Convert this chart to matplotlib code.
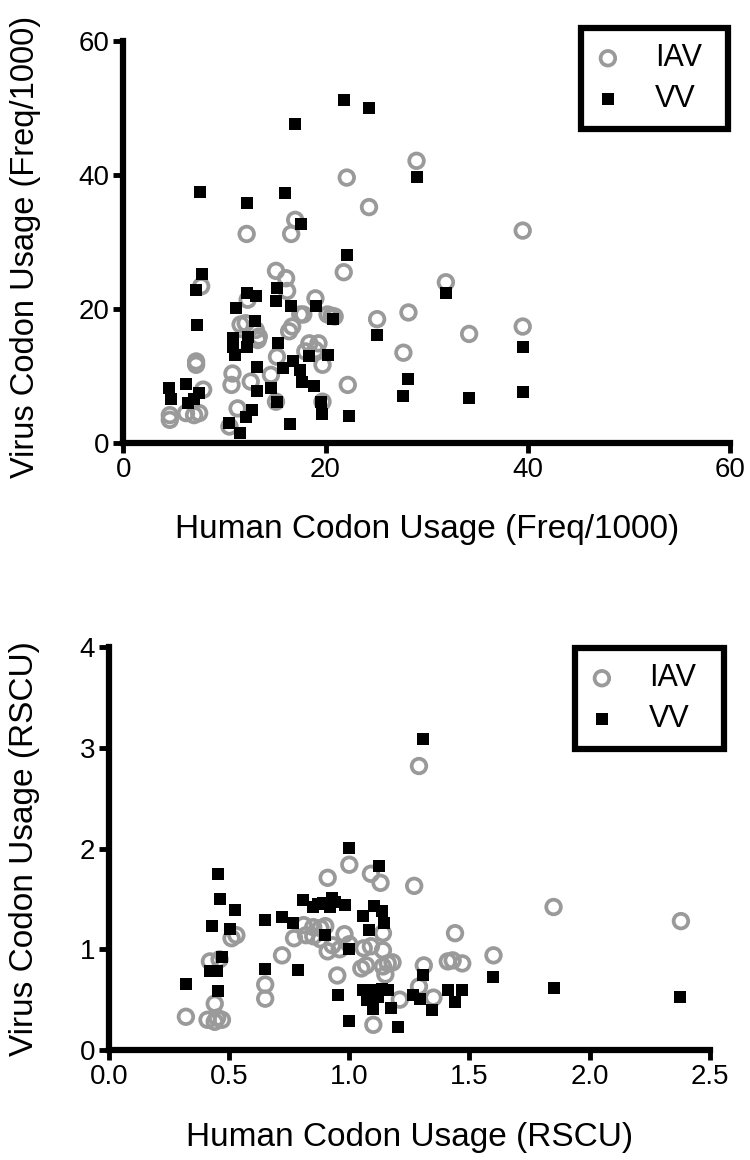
import matplotlib
matplotlib.use("Agg")
import matplotlib.pyplot as plt

plt.rcParams['font.family'] = ['Liberation Sans', 'DejaVu Sans']

# ---------------- data ----------------
# Top panel: codon usage frequency (per 1000)
iav_freq_human = [4.6, 4.6, 6.2, 7.0, 7.5, 7.9, 7.2, 7.2, 7.7, 10.5,
                  10.7, 10.8, 11.3, 12.6, 12.1, 12.3, 12.2, 11.6, 13.1, 13.3,
                  13.4, 11.5, 15.2, 14.6, 15.1, 15.1, 16.1, 16.2, 16.6, 17.0,
                  16.7, 16.4, 17.5, 18.0, 18.4, 19.3, 19.0, 19.7, 19.7, 19.0,
                  20.2, 17.8, 20.6, 20.9, 21.8, 22.1, 22.2, 24.3, 25.1, 27.7,
                  28.2, 29.0, 31.9, 34.2, 39.5, 39.5]
iav_freq_virus = [4.2, 3.5, 4.5, 4.2, 4.5, 8.0, 12.2, 11.7, 23.4, 2.5,
                  8.7, 10.4, 5.2, 9.2, 17.9, 21.4, 31.2, 17.7, 16.9, 15.4,
                  15.9, 14.9, 12.9, 10.2, 6.2, 25.7, 24.6, 22.7, 31.2, 33.3,
                  17.4, 16.7, 19.2, 13.7, 14.9, 14.9, 13.9, 11.7, 6.2, 21.6,
                  19.2, 19.2, 19.0, 18.9, 25.5, 39.6, 8.7, 35.2, 18.5, 13.5,
                  19.5, 42.1, 24.0, 16.3, 31.7, 17.4]
vv_freq_human = [17.0, 7.6, 12.2, 16.0, 17.6, 7.8, 7.2, 7.3, 12.2, 13.1,
                 15.2, 15.1, 16.6, 19.1, 20.7, 11.1, 13.0, 10.8, 10.8, 11.0,
                 12.3, 12.2, 15.3, 13.2, 16.8, 15.8, 17.5, 17.7, 18.9, 18.4,
                 20.2, 13.2, 14.6, 15.2, 4.5, 4.7, 6.2, 6.4, 7.0, 7.5,
                 12.7, 12.1, 10.5, 11.5, 16.5, 19.6, 19.7, 21.8, 24.3, 29.0,
                 22.1, 25.1, 31.9, 39.5, 28.2, 27.7, 34.2, 39.5, 22.3]
vv_freq_virus = [47.6, 37.5, 35.8, 37.3, 32.7, 25.3, 22.9, 17.7, 22.4, 21.9,
                 23.1, 21.2, 20.5, 20.5, 18.5, 20.2, 18.2, 15.7, 14.4, 13.2,
                 15.9, 14.4, 14.9, 11.4, 12.3, 11.2, 10.9, 9.2, 8.6, 13.0,
                 13.2, 7.8, 8.2, 6.2, 8.2, 6.6, 8.9, 6.0, 6.6, 7.5,
                 5.0, 3.9, 3.0, 1.6, 2.9, 6.1, 4.4, 51.1, 50.0, 39.7,
                 28.0, 16.1, 22.4, 14.4, 9.6, 7.0, 6.7, 7.6, 4.0]

# Bottom panel: RSCU
iav_rscu_human = [0.32, 0.42, 0.46, 0.44, 0.41, 0.44, 0.47, 0.45, 0.51, 0.53,
                  0.65, 0.65, 0.72, 0.77, 0.81, 0.85, 0.88, 0.82, 0.91, 0.91,
                  0.93, 0.95, 1.00, 1.09, 1.13, 1.27, 1.29, 1.85, 2.38, 1.44,
                  1.60, 1.41, 1.43, 1.47, 1.31, 1.29, 1.35, 1.21, 1.10, 0.98,
                  1.06, 1.09, 1.14, 1.05, 1.07, 1.14, 1.16, 1.18, 1.15, 1.14,
                  0.90, 0.85, 1.00, 0.96, 0.88]
iav_rscu_virus = [0.33, 0.88, 0.90, 0.46, 0.30, 0.28, 0.30, 0.32, 1.11, 1.14,
                  0.65, 0.51, 0.94, 1.11, 1.24, 1.22, 1.21, 1.14, 1.71, 0.98,
                  1.04, 0.74, 1.84, 1.75, 1.66, 1.63, 2.82, 1.42, 1.28, 1.16,
                  0.94, 0.88, 0.89, 0.86, 0.84, 0.63, 0.52, 0.50, 0.25, 1.15,
                  1.01, 1.03, 0.99, 0.81, 0.84, 0.83, 0.86, 0.87, 0.75, 1.16,
                  1.23, 1.13, 1.05, 1.00, 1.10]
vv_rscu_human = [0.455, 0.462, 0.524, 0.427, 0.503, 0.472, 0.420, 0.448, 0.452, 0.32,
                 0.649, 0.649, 0.721, 0.767, 0.788, 0.806, 0.85, 0.87, 0.89, 0.93,
                 0.92, 0.899, 0.999, 1.122, 0.982, 1.058, 1.103, 1.135, 1.145, 1.082,
                 0.999, 0.952, 1.058, 1.093, 1.135, 1.163, 1.072, 1.10, 1.172, 0.999,
                 1.204, 1.266, 1.294, 1.308, 1.345, 1.41, 1.469, 1.44, 1.60, 1.853,
                 2.376, 1.307, 0.94, 1.08, 1.12]
vv_rscu_virus = [1.75, 1.50, 1.39, 1.23, 1.20, 0.92, 0.78, 0.78, 0.59, 0.66,
                 1.29, 0.80, 1.32, 1.26, 0.79, 1.49, 1.42, 1.45, 1.46, 1.51,
                 1.42, 1.14, 2.01, 1.83, 1.44, 1.33, 1.43, 1.38, 1.26, 1.19,
                 1.00, 0.55, 0.60, 0.60, 0.61, 0.60, 0.50, 0.41, 0.42, 0.29,
                 0.23, 0.55, 0.51, 0.74, 0.40, 0.60, 0.60, 0.48, 0.72, 0.62,
                 0.53, 3.09, 1.47, 0.55, 0.53]

series_labels = ['IAV', 'VV']
freq_ticks = [0, 20, 40, 60]
freq_ticklabels = ['0', '20', '40', '60']
rscu_xticks = [0.0, 0.5, 1.0, 1.5, 2.0, 2.5]
rscu_xticklabels = ['0.0', '0.5', '1.0', '1.5', '2.0', '2.5']
rscu_yticks = [0, 1, 2, 3, 4]
rscu_yticklabels = ['0', '1', '2', '3', '4']

# ---------------- figure ----------------
W, H = 750, 1160
fig = plt.figure(figsize=(W / 100, H / 100), dpi=100)

ax1 = fig.add_axes([123.3 / W, 1 - 443.3 / H, (730 - 123.3) / W, (443.3 - 40.7) / H])
ax2 = fig.add_axes([109 / W, 1 - 1050 / H, (709.75 - 109) / W, (1050 - 647.2) / H])

GRAY = '#9a9a9a'


def style(ax):
    for s in ('top', 'right'):
        ax.spines[s].set_visible(False)
    for s in ('left', 'bottom'):
        ax.spines[s].set_linewidth(4.5)
        ax.spines[s].set_capstyle('projecting')
    ax.tick_params(direction='out', length=7, width=3.5, labelsize=20, pad=3,
                   colors='black')
    ax.set_facecolor('white')


def draw(ax, xi, yi, xv, yv):
    ax.scatter(xi, yi, s=10.5 ** 2, marker='o', facecolors='none',
               edgecolors=GRAY, linewidths=2.7, label=series_labels[0],
               zorder=3, clip_on=False)
    ax.scatter(xv, yv, s=8.5 ** 2, marker='s', color='black', linewidths=0,
               label=series_labels[1], zorder=4, clip_on=False)


draw(ax1, iav_freq_human, iav_freq_virus, vv_freq_human, vv_freq_virus)
draw(ax2, iav_rscu_human, iav_rscu_virus, vv_rscu_human, vv_rscu_virus)

for ax in (ax1, ax2):
    style(ax)

ax1.set_xlim(0, 60)
ax1.set_ylim(0, 60)
ax1.set_xticks(freq_ticks)
ax1.set_xticklabels(freq_ticklabels)
ax1.set_yticks(freq_ticks)
ax1.set_yticklabels(freq_ticklabels)

ax2.set_xlim(0, 2.5)
ax2.set_ylim(0, 4)
ax2.set_xticks(rscu_xticks)
ax2.set_xticklabels(rscu_xticklabels)
ax2.set_yticks(rscu_yticks)
ax2.set_yticklabels(rscu_yticklabels)

ax1.set_xlabel('Human Codon Usage (Freq/1000)', fontsize=24)
ax1.set_ylabel('Virus Codon Usage (Freq/1000)', fontsize=23.5)
ax2.set_xlabel('Human Codon Usage (RSCU)', fontsize=24)
ax2.set_ylabel('Virus Codon Usage (RSCU)', fontsize=24)

ax1.xaxis.set_label_coords(0.5, -0.215)
ax1.xaxis.label.set_va('center')
ax1.yaxis.set_label_coords(-0.162, 0.488)
ax1.yaxis.label.set_va('center')
ax2.xaxis.set_label_coords(0.5, -0.218)
ax2.xaxis.label.set_va('center')
ax2.yaxis.set_label_coords(-0.14, 0.5)
ax2.yaxis.label.set_va('center')


def add_legend(ax, x0, x1, top, bottom):
    leg = ax.legend(loc='upper left',
                    bbox_to_anchor=(x0 / W, 1 - bottom / H, (x1 - x0) / W, (bottom - top) / H),
                    bbox_transform=fig.transFigure, mode='expand', borderaxespad=0,
                    frameon=True, fancybox=False, framealpha=1, edgecolor='black',
                    fontsize=22, handlelength=0.76, handletextpad=1.15,
                    borderpad=0.5, labelspacing=0.35, scatterpoints=1)
    leg.get_frame().set_linewidth(4.5)
    return leg


add_legend(ax1, 581, 728, 28, 136)
add_legend(ax2, 575, 724, 648, 757)

fig.savefig('out.png', dpi=100, facecolor='white')
